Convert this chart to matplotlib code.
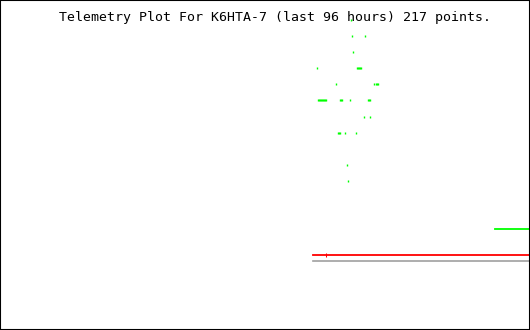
import matplotlib
matplotlib.use('Agg')
import matplotlib.pyplot as plt

# hours relative to now, value levels
green_hours = [-32.4, -32.2, -29.8, -32.0, -38.5, -31.3, -31.1, -30.9, -30.7, -30.5,
               -35.1, -28.1, -27.9, -27.7, -27.5,
               -38.4, -38.2, -38.0, -37.8, -37.6, -37.4, -37.2, -37.0, -36.8,
               -34.4, -34.2, -34.05, -32.55, -29.3, -29.1, -29.0,
               -30.0, -28.9, -34.8, -34.6, -34.4, -33.5, -31.5, -33.1, -32.9]
green_vals = [19, 18, 18, 17, 16, 16, 16, 16, 16, 16,
              15, 15, 15, 15, 15,
              14, 14, 14, 14, 14, 14, 14, 14, 14,
              14, 14, 14, 14, 14, 14, 14,
              13, 13, 12, 12, 12, 12, 12, 10, 9]

green_line_hours = [-6.2, 0]
green_line_vals = [6.0, 6.0]
red_hours = [-39.2, 0]
red_vals = [4.38, 4.38]
red_mark_hours = [-36.8]
red_mark_vals = [4.38]
gray_hours = [-39.2, 0]
gray_vals = [4.02, 4.02]

title = 'Telemetry Plot For K6HTA-7 (last 96 hours) 217 points.'

fig = plt.figure(figsize=(5.3, 3.3), dpi=100)
ax = fig.add_axes([0, 0, 1, 1])
ax.set_xlim(-96, 0.1)
ax.set_ylim(-0.25, 20.24)

ax.plot(gray_hours, gray_vals, color='#a0a0a0', linewidth=1.2)
ax.plot(red_hours, red_vals, color='#ff0000', linewidth=1.3)
ax.plot(red_mark_hours, red_mark_vals, linestyle='none', marker='|',
        color='#ff0000', markersize=3, markeredgewidth=0.75)
ax.plot(green_line_hours, green_line_vals, color='#00ff00', linewidth=1.3)
ax.plot(green_hours, green_vals, linestyle='none', marker='|',
        color='#00ff00', markersize=1.6, markeredgewidth=1.0, antialiased=False)

ax.set_xticks([])
ax.set_yticks([])
for s in ax.spines.values():
    s.set_color('black')
    s.set_linewidth(1.5)

fig.text(0.519, 0.948, title, ha='center', va='center',
         family='DejaVu Sans Mono', fontsize=9.55, color='black')

fig.savefig('out.png', dpi=100)
